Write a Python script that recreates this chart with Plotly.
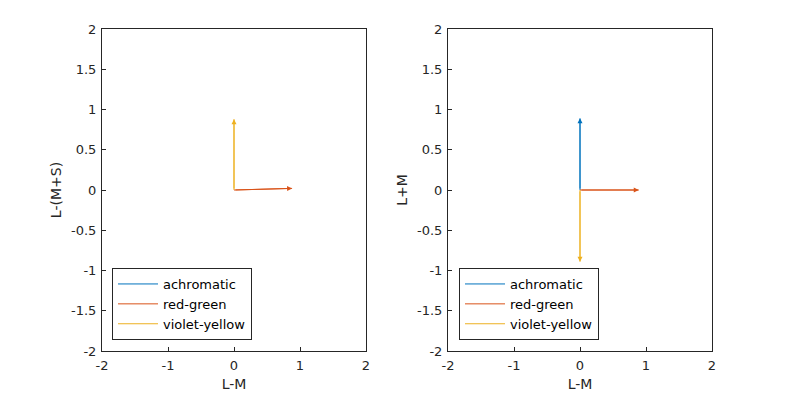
import plotly.graph_objects as go

names = ["achromatic", "red-green", "violet-yellow"]
colors = ["#0072BD", "#D95319", "#EDB120"]

# left panel: (L-M, L-(M+S)) endpoints
left_x = [0.0, 0.88, 0.0]
left_y = [0.0, 0.02, 0.88]
# right panel: (L-M, L+M) endpoints
right_x = [0.0, 0.89, 0.0]
right_y = [0.89, 0.0, -0.89]

tick_vals = [-2, -1.5, -1, -0.5, 0, 0.5, 1, 1.5, 2]
tick_text = ["-2", "-1.5", "-1", "-0.5", "0", "0.5", "1", "1.5", "2"]
xtick_vals = [-2, -1, 0, 1, 2]
xtick_text = ["-2", "-1", "0", "1", "2"]

fig = go.Figure()
annotations = []
panels = [(left_x, left_y, "x", "y", "legend"), (right_x, right_y, "x2", "y2", "legend2")]
for px, py, xa, ya, lg in panels:
    for n, c, ex, ey in zip(names, colors, px, py):
        fig.add_trace(go.Scatter(
            x=[0, ex], y=[0, ey], mode="lines", name=n,
            line=dict(color=c, width=1), xaxis=xa, yaxis=ya, legend=lg,
            hoverinfo="skip"))
        if ex != 0 or ey != 0:
            annotations.append(dict(
                x=ex, y=ey, ax=0, ay=0, xref=xa, yref=ya, axref=xa, ayref=ya,
                text="", showarrow=True, arrowhead=2, arrowsize=1.0,
                arrowwidth=1, arrowcolor=c, standoff=0, startstandoff=0))

ax_common = dict(
    range=[-2, 2], showgrid=False, zeroline=False, showline=True, mirror=True,
    linecolor="#262626", linewidth=1, ticks="inside", ticklen=4,
    tickcolor="#262626", tickfont=dict(size=13, color="#262626"),
    title_font=dict(size=14, color="#262626"))

W = 610.0
H = 322.0
left_end = (366 - 102) / W
right_start = (448 - 102) / W
off = 8  # page body margin

fig.update_layout(
    width=787, height=394,
    margin=dict(l=102 - off, r=75 + off, t=29 - off, b=43 + off),
    paper_bgcolor="white", plot_bgcolor="white",
    font=dict(family="DejaVu Sans, sans-serif", color="#262626"),
    xaxis=dict(domain=[0, left_end], tickvals=xtick_vals, ticktext=xtick_text,
               ticklabelstandoff=2,
               title=dict(text="L-M", standoff=7), anchor="y", **ax_common),
    yaxis=dict(domain=[0, 1], tickvals=tick_vals, ticktext=tick_text,
               ticklabelstandoff=2,
               title=dict(text="L-(M+S)", standoff=6), anchor="x", **ax_common),
    xaxis2=dict(domain=[right_start, 1], tickvals=xtick_vals, ticktext=xtick_text,
                ticklabelstandoff=2,
                title=dict(text="L-M", standoff=7), anchor="y2", **ax_common),
    yaxis2=dict(domain=[0, 1], tickvals=tick_vals, ticktext=tick_text,
                ticklabelstandoff=2,
                title=dict(text="L+M", standoff=6), anchor="x2", **ax_common),
    legend=dict(x=(112 - 102) / W, y=(351 - 340) / H, xanchor="left", yanchor="bottom",
                bordercolor="#262626", borderwidth=1, bgcolor="white",
                font=dict(size=13, color="#000000"), tracegroupgap=0,
                itemwidth=40),
    legend2=dict(x=(459 - 102) / W, y=(351 - 340) / H, xanchor="left", yanchor="bottom",
                 bordercolor="#262626", borderwidth=1, bgcolor="white",
                 font=dict(size=13, color="#000000"), tracegroupgap=0,
                 itemwidth=40),
    annotations=annotations,
)

fig.write_html("out.html")
